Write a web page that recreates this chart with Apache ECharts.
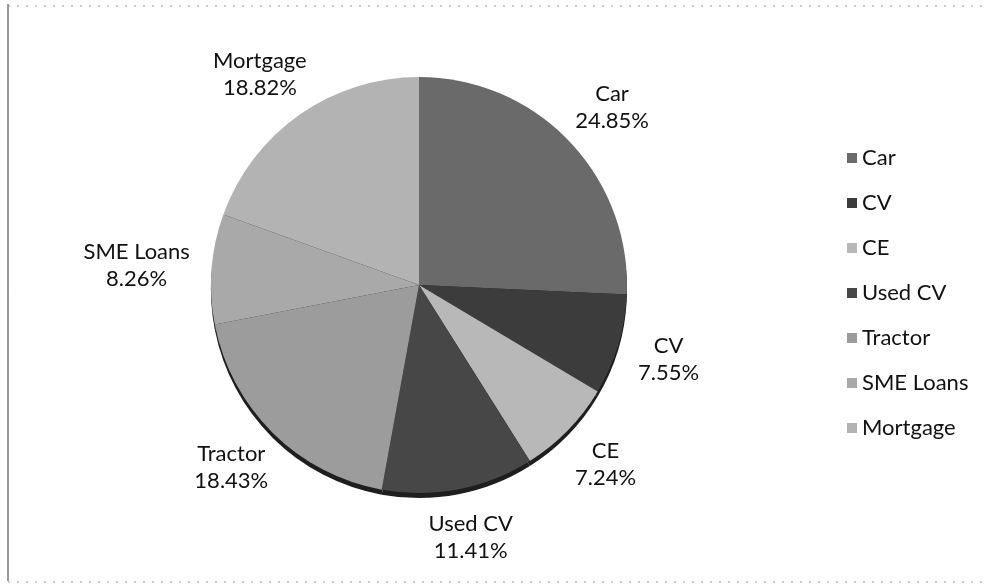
<!DOCTYPE html>
<html>
<head>
<meta charset="utf-8">
<script src="https://cdn.jsdelivr.net/npm/echarts@6/dist/echarts.min.js"></script>
<style>
  html, body { margin: 0; padding: 0; background: #fff; }
  #main { width: 990px; height: 587px; }
</style>
</head>
<body>
<div id="main"></div>
<script>
// data
var categories = ['Car', 'CV', 'CE', 'Used CV', 'Tractor', 'SME Loans', 'Mortgage'];
var shares = [24.85, 7.55, 7.24, 11.41, 18.43, 8.26, 18.82];
var sliceColors = ['#6a6a6a', '#3c3c3c', '#b8b8b8', '#474747', '#9c9c9c', '#a9a9a9', '#b3b3b3'];

var CX = 419, CY = 285, R = 208;
var labelGap = 22;

// mid angle of every slice, clockwise from 12 o'clock (radians)
var total = shares.reduce(function (s, v) { return s + v; }, 0);
var midAngles = [];
var acc = 0;
shares.forEach(function (v) {
  midAngles.push((acc + v / 2) / total * Math.PI * 2);
  acc += v;
});

var pieData = categories.map(function (name, i) {
  return { name: name, value: shares[i], itemStyle: { color: sliceColors[i] } };
});
var rimData = categories.map(function (name, i) {
  return { name: name, value: shares[i] };
});

var myChart = echarts.init(document.getElementById('main'));
var option = {
  backgroundColor: '#fff',
  animation: false,
  textStyle: { fontFamily: 'Lato' },
  legend: {
    orient: 'vertical',
    left: 842,
    top: 142,
    icon: 'rect',
    itemWidth: 10,
    itemHeight: 10,
    itemGap: 23,
    data: categories,
    textStyle: { fontFamily: 'Lato', fontSize: 22, lineHeight: 22, color: '#111' }
  },
  graphic: [
    { type: 'line', shape: { x1: 8, y1: 4, x2: 8, y2: 581 }, style: { stroke: '#333', lineWidth: 1 } },
    { type: 'line', shape: { x1: 8, y1: 6, x2: 985, y2: 6 }, style: { stroke: '#999', lineWidth: 1, lineDash: [2, 7] } },
    { type: 'line', shape: { x1: 8, y1: 582, x2: 985, y2: 582 }, style: { stroke: '#999', lineWidth: 1, lineDash: [2, 7] } }
  ],
  series: [
    {
      name: 'share',
      type: 'pie',
      center: [CX, CY],
      radius: R,
      startAngle: 90,
      clockwise: true,
      z: 2,
      avoidLabelOverlap: false,
      itemStyle: { borderWidth: 0 },
      label: {
        show: true,
        position: 'outside',
        formatter: '{b}\n{c}%',
        fontFamily: 'Lato',
        fontSize: 22,
        lineHeight: 27,
        color: '#111'
      },
      labelLine: { show: false },
      labelLayout: function (p) {
        var a = midAngles[p.dataIndex];
        var dx = Math.sin(a), dy = -Math.cos(a);
        var w = p.labelRect.width, h = p.labelRect.height;
        return {
          x: CX + dx * (R + labelGap) + dx * w / 2,
          y: CY + dy * (R + labelGap) + dy * h / 2,
          align: 'center',
          verticalAlign: 'middle'
        };
      },
      data: pieData
    },
    {
      // the dark edge of the tilted pie, only seen at the bottom
      name: 'rim',
      type: 'pie',
      silent: true,
      legendHoverLink: false,
      center: [CX, CY + 5],
      radius: R,
      startAngle: 90,
      z: 1,
      label: { show: false },
      labelLine: { show: false },
      itemStyle: { color: '#1e1e1e' },
      data: rimData
    }
  ]
};
myChart.setOption(option);
</script>
</body>
</html>
